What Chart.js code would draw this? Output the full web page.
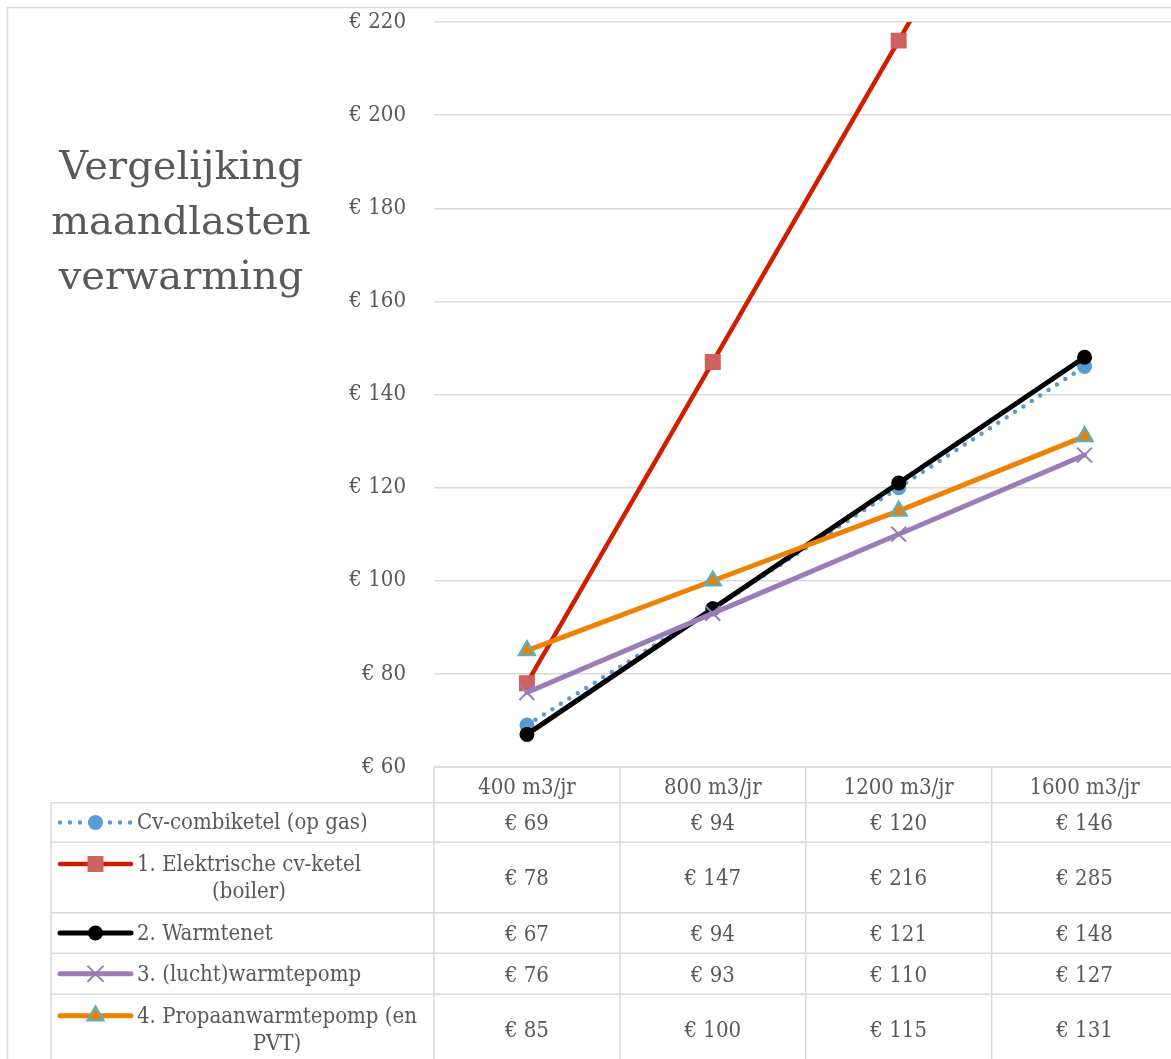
<!DOCTYPE html>
<html>
<head>
<meta charset="utf-8">
<title>Vergelijking maandlasten verwarming</title>
<script src="https://cdn.jsdelivr.net/npm/chart.js@4.4.1/dist/chart.umd.min.js"></script>
<style>
    html, body { margin: 0; padding: 0; background: #fff; overflow: hidden; }
    #wrap { position: relative; width: 1171px; height: 1059px; overflow: hidden; }
    #chart { position: absolute; left: 0; top: 0; }
    #title {
        position: absolute; left: 31px; top: 138px; width: 300px;
        text-align: center; font: 40px 'DejaVu Serif', serif; line-height: 55px; color: #595959;
    }
</style>
</head>
<body>
<div id="wrap">
    <canvas id="chart" width="1190" height="1059"></canvas>
    <div id="title">Vergelijking<br>maandlasten<br>verwarming</div>
</div>
<script>
// Chart data
const categories = ['400 m3/jr', '800 m3/jr', '1200 m3/jr', '1600 m3/jr'];
const seriesNames = [
    'Cv-combiketel (op gas)',
    '1. Elektrische cv-ketel\n(boiler)',
    '2. Warmtenet',
    '3. (lucht)warmtepomp',
    '4. Propaanwarmtepomp (en\nPVT)'
];
const cvCombiketel = [69, 94, 120, 146];
const elektrischeKetel = [78, 147, 216, 285];
const warmtenet = [67, 94, 121, 148];
const luchtWarmtepomp = [76, 93, 110, 127];
const propaanWarmtepomp = [85, 100, 115, 131];
const yMin = 60, yMax = 220, yStep = 20;

const TEXT = '#595959';
const GRID = '#d9d9d9';
const FONT = "'DejaVu Serif Condensed', 'DejaVu Serif', serif";
const FONT_SIZE = 22;

Chart.defaults.font.family = FONT;
Chart.defaults.font.size = FONT_SIZE;
Chart.defaults.color = TEXT;

const euro = v => '€ ' + v;

/**
 * Draw a legend key (line + marker) like the dataset looks
 */
function drawKey(ctx, ds, x0, x1, y) {
    ctx.save();
    ctx.strokeStyle = ds.borderColor;
    ctx.lineWidth = ds.borderWidth;
    ctx.lineCap = ds.borderCapStyle || 'round';
    ctx.setLineDash(ds.borderDash || []);
    ctx.beginPath();
    ctx.moveTo(x0, y);
    ctx.lineTo(x1, y);
    ctx.stroke();
    ctx.setLineDash([]);
    ctx.fillStyle = ds.pointBackgroundColor;
    ctx.strokeStyle = ds.pointBorderColor;
    ctx.lineWidth = ds.pointBorderWidth;
    Chart.helpers.drawPoint(ctx, {
        pointStyle: ds.pointStyle,
        radius: ds.pointRadius,
        borderWidth: ds.pointBorderWidth,
        rotation: 0
    }, (x0 + x1) / 2, y);
    ctx.restore();
}

// Outer border + data table under the plot
const tablePlugin = {
    id: 'dataTable',
    beforeDraw(chart) {
        const ctx = chart.ctx;
        ctx.save();
        ctx.strokeStyle = GRID;
        ctx.lineWidth = 1.5;
        ctx.beginPath();
        ctx.moveTo(7.5, chart.height);
        ctx.lineTo(7.5, 7.5);
        ctx.lineTo(chart.width, 7.5);
        ctx.stroke();
        ctx.restore();
    },
    afterDraw(chart) {
        const ctx = chart.ctx;
        const area = chart.chartArea;
        const xs = chart.scales.x;
        const colW = (area.right - area.left) / categories.length;
        const tableLeft = 51;
        const headerTop = area.bottom;
        const headerH = 35.7;
        const rowH = [39.6, 70.4, 40.6, 41, 70];
        const lineH = 27;
        const datasets = chart.data.datasets;

        const rowTops = [];
        let y = headerTop + headerH;
        rowH.forEach(h => { rowTops.push(y); y += h; });
        const bottom = y;

        ctx.save();
        ctx.strokeStyle = GRID;
        ctx.lineWidth = 1.5;
        ctx.beginPath();
        ctx.moveTo(area.left, headerTop);
        ctx.lineTo(area.right, headerTop);
        rowTops.concat([bottom]).forEach(t => {
            ctx.moveTo(tableLeft, t);
            ctx.lineTo(area.right, t);
        });
        ctx.moveTo(tableLeft, rowTops[0]);
        ctx.lineTo(tableLeft, bottom);
        for (let i = 0; i <= categories.length; i++) {
            const cx = area.left + i * colW;
            ctx.moveTo(cx, headerTop);
            ctx.lineTo(cx, bottom);
        }
        ctx.stroke();

        ctx.font = FONT_SIZE + 'px ' + FONT;
        ctx.fillStyle = TEXT;
        ctx.textBaseline = 'middle';
        datasets.forEach((ds, r) => {
            const mid = rowTops[r] + rowH[r] / 2;
            const lines = seriesNames[r].split('\n');
            const firstY = mid - (lines.length - 1) * lineH / 2;
            const maxW = Math.max(...lines.map(l => ctx.measureText(l).width));
            ctx.textAlign = 'center';
            ctx.fillStyle = TEXT;
            lines.forEach((l, k) => ctx.fillText(l, 137 + maxW / 2, firstY + k * lineH + 1));
            ds.data.forEach((v, c) => {
                ctx.fillText(euro(v), xs.getPixelForValue(c), mid + 2);
            });
            drawKey(ctx, ds, 60, 131, firstY);
        });
        ctx.restore();
    }
};

const ctx = document.getElementById('chart').getContext('2d');
const chart = new Chart(ctx, {
    type: 'line',
    data: {
        labels: categories,
        datasets: [
            {
                label: seriesNames[0],
                data: cvCombiketel,
                borderColor: '#5B9BD5',
                borderWidth: 4.5,
                borderDash: [0, 10],
                borderCapStyle: 'round',
                pointStyle: 'circle',
                pointRadius: 7.5,
                pointBackgroundColor: '#5B9BD5',
                pointBorderColor: '#5B9BD5',
                pointBorderWidth: 0,
                order: 5
            },
            {
                label: seriesNames[1],
                data: elektrischeKetel,
                borderColor: '#D01E00',
                borderWidth: 4.5,
                borderCapStyle: 'round',
                pointStyle: 'rect',
                pointRadius: 11.3,
                pointBackgroundColor: '#CF625E',
                pointBorderColor: '#CF625E',
                pointBorderWidth: 0,
                order: 4
            },
            {
                label: seriesNames[2],
                data: warmtenet,
                borderColor: '#000000',
                borderWidth: 5,
                borderCapStyle: 'round',
                pointStyle: 'circle',
                pointRadius: 7.5,
                pointBackgroundColor: '#000000',
                pointBorderColor: '#000000',
                pointBorderWidth: 0,
                order: 3
            },
            {
                label: seriesNames[3],
                data: luchtWarmtepomp,
                borderColor: '#9A7DB8',
                borderWidth: 5,
                borderCapStyle: 'round',
                pointStyle: 'crossRot',
                pointRadius: 10.5,
                pointBackgroundColor: '#9A7DB8',
                pointBorderColor: '#9A7DB8',
                pointBorderWidth: 2,
                order: 2
            },
            {
                label: seriesNames[4],
                data: propaanWarmtepomp,
                borderColor: '#EE8205',
                borderWidth: 5,
                borderCapStyle: 'round',
                pointStyle: 'triangle',
                pointRadius: 9.5,
                pointBackgroundColor: '#E8800E',
                pointBorderColor: '#4BB5CC',
                pointBorderWidth: 2,
                order: 1
            }
        ]
    },
    options: {
        responsive: false,
        animation: false,
        devicePixelRatio: 1,
        layout: { padding: { top: 22, left: 0, right: 8, bottom: 0 } },
        elements: { line: { tension: 0 } },
        plugins: {
            legend: { display: false },
            title: { display: false },
            tooltip: { enabled: false }
        },
        scales: {
            x: {
                offset: true,
                grid: { display: false, drawTicks: false },
                border: { display: false },
                ticks: { padding: 8, maxRotation: 0, autoSkip: false, color: TEXT },
                afterFit(scale) {
                    scale.height = 292;
                    scale.paddingLeft = 0;
                    scale.paddingRight = 0;
                }
            },
            y: {
                min: yMin,
                max: yMax,
                grid: { color: GRID, lineWidth: 1.5, drawTicks: false },
                border: { display: false },
                ticks: { stepSize: yStep, padding: 28, color: TEXT, callback: v => euro(v) },
                afterFit(scale) {
                    scale.width = 434;
                    scale.paddingTop = 0;
                    scale.paddingBottom = 0;
                }
            }
        }
    },
    plugins: [tablePlugin]
});
</script>
</body>
</html>
